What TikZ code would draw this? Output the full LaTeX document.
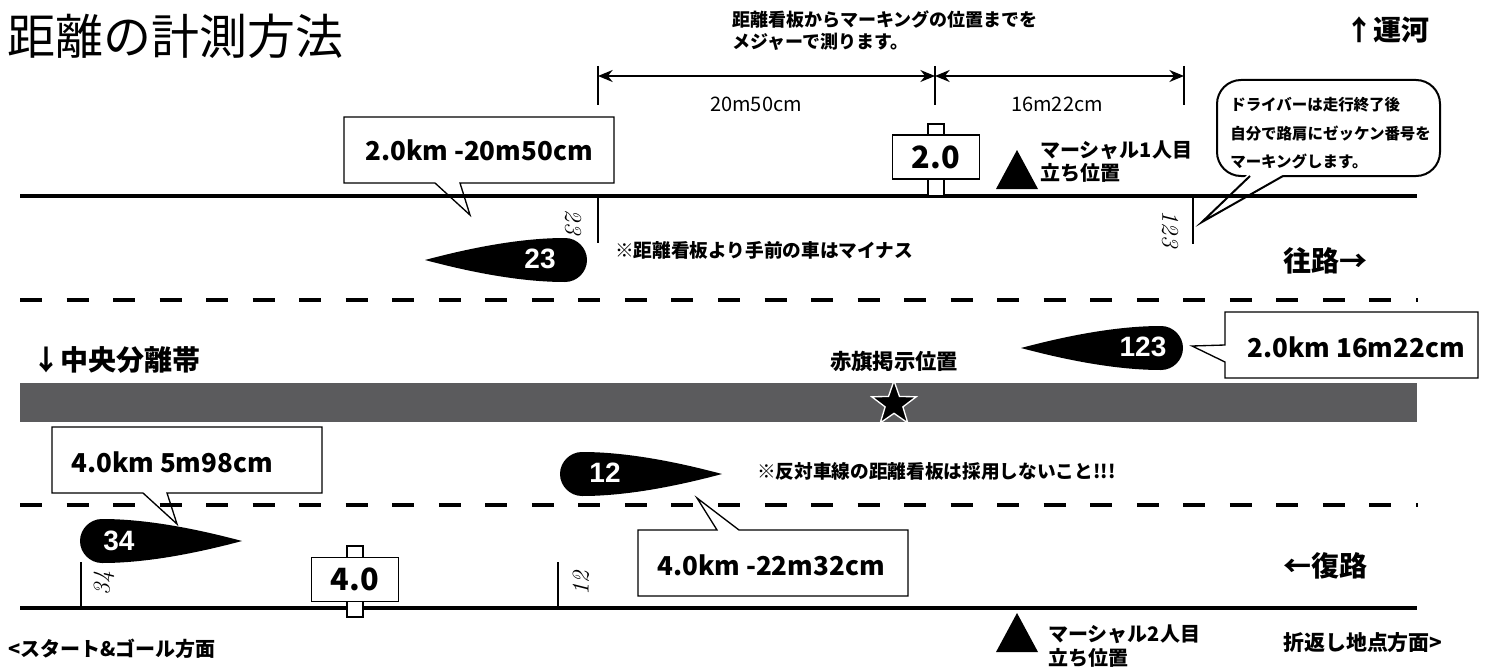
\documentclass[tikz,border=0pt]{standalone}
\usepackage{fontspec}
\setmainfont{Noto Sans CJK JP}
\newfontfamily\carfont{Liberation Sans}
\newfontfamily\handfont{lmroman10-italic}[Extension=.otf]
\usetikzlibrary{shapes.geometric,arrows.meta}

\definecolor{median}{RGB}{91,91,93}

\tikzset{
  road/.style={line width=3.2pt},
  lane/.style={line width=3.6pt, dash pattern={on 16.5pt off 18.4pt}},
  marker/.style={line width=0.8pt},
  calloutbox/.style={draw, fill=white, line width=1pt},
  callouttext/.style={font=\bfseries\fontsize{19.5}{19.5}\selectfont, inner sep=0pt},
  dimline/.style={line width=1.1pt, {Stealth[length=11pt,width=9pt]}-{Stealth[length=11pt,width=9pt]}},
  signpost/.style={draw, fill=white, line width=1pt},
  signbox/.style={draw, fill=white, line width=1pt, minimum width=65pt, minimum height=33pt, inner sep=0pt, font=\bfseries\fontsize{23}{23}\selectfont},
  car/.pic={\fill (-140,0) .. controls (-95,-12) and (-45,-22) .. (0,-22) .. controls (12,-22) and (22,-12) .. (22,0) .. controls (22,12) and (12,22) .. (0,22) .. controls (-45,22) and (-95,12) .. (-140,0) -- cycle;},
  carno/.style={text=white, font=\carfont\bfseries\fontsize{21}{21}\selectfont, inner sep=0pt},
  hand/.style={font=\handfont\fontsize{18}{18}\selectfont, inner sep=0pt},
  lanelabel/.style={font=\bfseries\fontsize{21}{21}\selectfont, inner sep=0pt, anchor=west},
  note/.style={font=\bfseries\fontsize{14}{14}\selectfont, inner sep=0pt, anchor=west},
}

\begin{document}
\begin{tikzpicture}[x=0.75pt,y=0.75pt,yscale=-1,xscale=1]
\useasboundingbox (0,0) rectangle (1491,667);

%Shape: Median
\fill[median] (20,383) rectangle (1417,422);

%Shape: Callouts
\draw[calloutbox] (344,117) -- (614,117) -- (614,183) -- (460,183) -- (470,215) -- (435,183) -- (344,183) -- cycle;
\draw[calloutbox] (1225,312) -- (1478,312) -- (1478,378) -- (1225,378) -- (1225,362) -- (1192,346) -- (1225,345) -- cycle;
\draw[calloutbox] (52,427) -- (322,427) -- (322,493) -- (167,493) -- (177,524) -- (143,493) -- (52,493) -- cycle;
\draw[calloutbox] (638,530) -- (717,530) -- (697,498) -- (739,530) -- (908,530) -- (908,596) -- (638,596) -- cycle;
%Shape: Speech bubble
\draw[calloutbox, line width=1.5pt, rounded corners=18] (1217,80) rectangle (1440,176);
\fill[white] (1248,174) -- (1202,222) -- (1285,174) -- cycle;
\draw[line width=1.5pt, line join=miter] (1250,176) -- (1202,222) -- (1283,176);

%Straight Lines: roads and lanes
\draw[road] (20,196) -- (1417,196);
\draw[road] (20,608) -- (1417,608);
\draw[lane] (20,300) -- (1418,300);
\draw[lane] (20,505) -- (1418,505);

%Straight Lines: markings
\draw[marker] (598,197) -- (598,243);
\draw[marker] (1193,197) -- (1193,244);
\draw[marker] (81,562) -- (81,608);
\draw[marker] (558,562) -- (558,608);
\node[hand, rotate=-90] (hand23) at (573,222) {23};
\node[hand, rotate=-90] (hand123) at (1170,229) {123};
\node[hand, rotate=90] (hand34) at (104,583) {34};
\node[hand, rotate=90] (hand12) at (581,583) {12};

%Straight Lines: measuring
\draw[marker, line width=1.1pt] (598,66) -- (598,105);
\draw[marker, line width=1.1pt] (935,66) -- (935,105);
\draw[marker, line width=1.1pt] (1184,66) -- (1184,105);
\coordinate (dimA) at (598,76);
\coordinate (dimB) at (935,76);
\coordinate (dimC) at (1184,76);
\draw[dimline] (dimA) -- (dimB);
\draw[dimline] (dimB) -- (dimC);
\node[inner sep=0pt, font=\fontsize{15}{15}\selectfont] (lenA) at (756,104) {20m50cm};
\node[inner sep=0pt, font=\fontsize{15}{15}\selectfont] (lenB) at (1057,104) {16m22cm};

%Shape: Distance signs
\draw[signpost] (928,124) rectangle (944,196);
\node[signbox] (sign20) at (936,157) {2.0};
\draw[signpost] (347,546) rectangle (363,617);
\node[signbox] (sign40) at (355,579.5) {4.0};

%Shape: Marshals
\fill (1017,150) -- (1038,189) -- (996,189) -- cycle;
\fill (1017,613) -- (1038,652) -- (996,652) -- cycle;

%Shape: Cars
\pic (car23) at (565,260) {car};
\pic (car123) at (1161,348) {car};
\pic[xscale=-1] (car34) at (102,541) {car};
\pic[xscale=-1] (car12) at (582,474) {car};
\node[carno] (no23) at (540,259) {23};
\node[carno] (no123) at (1143,347) {123};
\node[carno] (no34) at (119,541) {34};
\node[carno] (no12) at (605,473) {12};

%Shape: Star
\node[star, star points=5, star point ratio=2.5, fill=black, draw=white, line width=1pt, minimum size=35pt, inner sep=0pt] (flag) at (894,404) {};

% Text Node
\node[anchor=west, inner sep=0pt, font=\fontsize{36}{36}\selectfont] (title) at (7,36) {距離の計測方法};
% Text Node
\node[anchor=west, inner sep=0pt, align=left, font=\bfseries\fontsize{13.5}{16.5}\selectfont] (howto) at (732,31) {距離看板からマーキングの位置までを\\メジャーで測ります。};
% Text Node
\node[lanelabel] (canal) at (1345,30) {↑運河};
% Text Node
\node[anchor=west, inner sep=0pt, align=left, font=\bfseries\fontsize{15}{17}\selectfont] (marshalA) at (1040,161.5) {マーシャル1人目\\立ち位置};
% Text Node
\node[anchor=west, inner sep=0pt, align=left, font=\bfseries\fontsize{11.6}{21.4}\selectfont] (driver) at (1230,133.5) {ドライバーは走行終了後\\自分で路肩にゼッケン番号を\\マーキングします。};
% Text Node
\node[callouttext] (kmA) at (479,150) {2.0km -20m50cm};
\node[callouttext] (kmB) at (1356,347) {2.0km 16m22cm};
\node[callouttext] (kmC) at (172,462) {4.0km 5m98cm};
\node[callouttext] (kmD) at (771,565) {4.0km -22m32cm};
% Text Node
\node[note] (minus) at (615,250) {※距離看板より手前の車はマイナス};
\node[note] (opposite) at (757,471) {※反対車線の距離看板は採用しないこと!!!};
% Text Node
\node[lanelabel] (outward) at (1283,261) {往路→};
\node[lanelabel] (inward) at (1283,566) {←復路};
\node[lanelabel] (medianlabel) at (32,360) {↓中央分離帯};
% Text Node
\node[inner sep=0pt, font=\bfseries\fontsize{16}{16}\selectfont] (redflag) at (894,361) {赤旗掲示位置};
% Text Node
\node[anchor=west, inner sep=0pt, align=left, font=\bfseries\fontsize{15}{18}\selectfont] (marshalB) at (1048,646.5) {マーシャル2人目\\立ち位置};
% Text Node
\node[anchor=west, inner sep=0pt, font=\bfseries\fontsize{15.7}{15.7}\selectfont] (turnback) at (1283,643) {折返し地点方面>};
\node[anchor=west, inner sep=0pt, font=\bfseries\fontsize{15}{15}\selectfont] (startgoal) at (8,649) {<スタート\&ゴール方面};

\end{tikzpicture}
\end{document}
